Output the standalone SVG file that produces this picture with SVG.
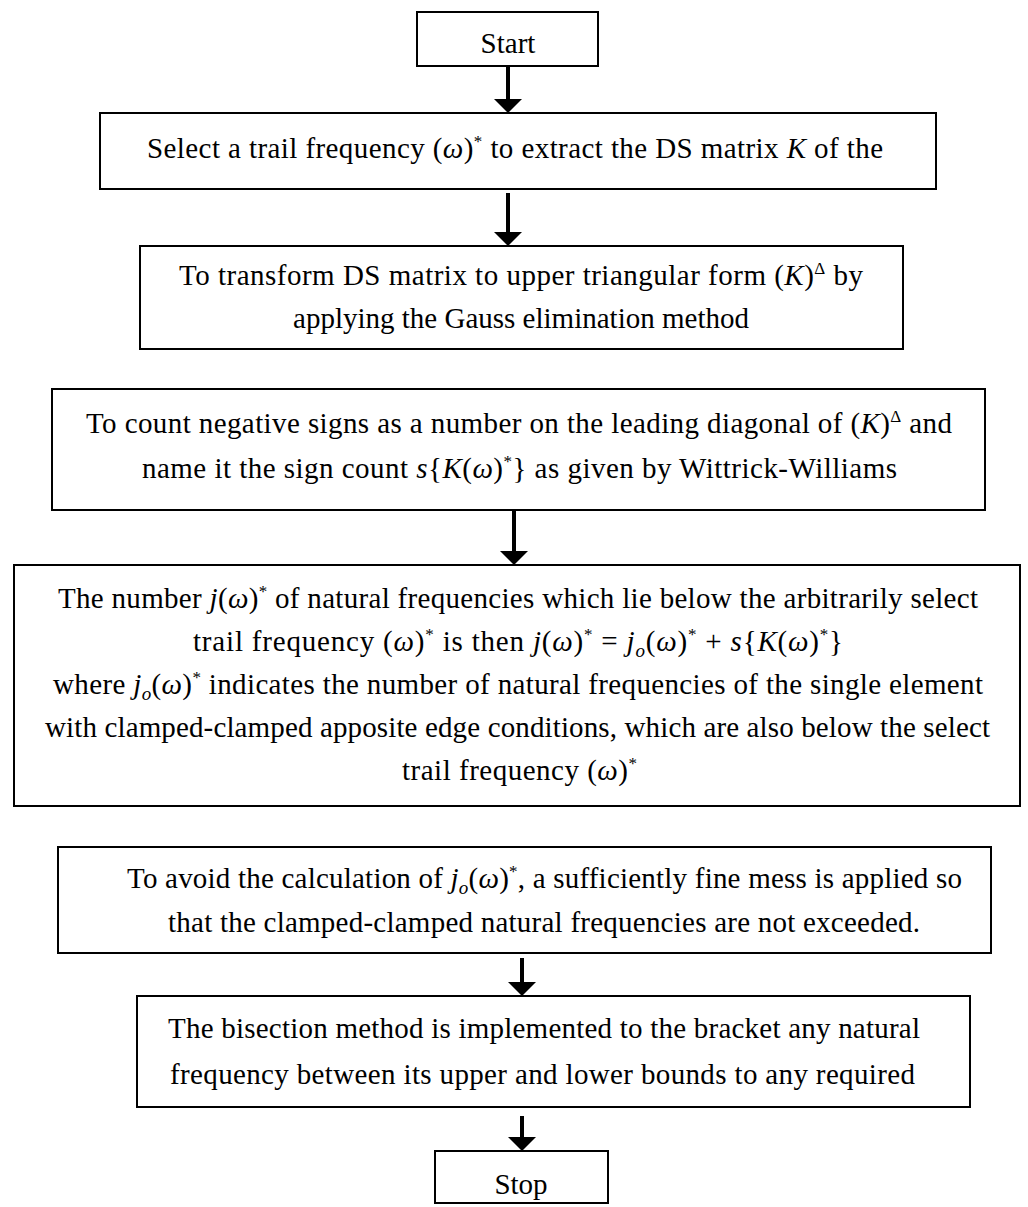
<svg xmlns="http://www.w3.org/2000/svg" width="1028" height="1207" viewBox="0 0 1028 1207">
<style>
.box{fill:#fff;stroke:#000;stroke-width:2}
.t{font-family:"Liberation Serif","DejaVu Serif",serif;font-size:29px;fill:#000;text-anchor:middle}
.m{font-style:italic}
.sup{font-size:17px}
.sub{font-size:19px;font-style:italic}
.conn{stroke:#000;stroke-width:4;fill:none}
.head{fill:#000}
</style>
<rect width="1028" height="1207" fill="#fff"/>
<g id="connectors">
<path d="M508 66 V100" class="conn"/><polygon class="head" points="494,99 522,99 508,113"/>
<path d="M508 193 V233" class="conn"/><polygon class="head" points="494,232 522,232 508,246"/>
<path d="M514 511 V552" class="conn"/><polygon class="head" points="500,551 528,551 514,565"/>
<path d="M522 958 V983" class="conn"/><polygon class="head" points="508,982 536,982 522,996"/>
<path d="M522 1116 V1138" class="conn"/><polygon class="head" points="508,1137 536,1137 522,1151"/>
</g>
<g id="start">
<rect class="box" x="417" y="12" width="181" height="54"/>
<text class="t" x="508" y="53">Start</text>
</g>
<g id="select">
<rect class="box" x="100" y="113" width="836" height="76"/>
<text class="t" x="515" y="158" textLength="736">Select a trail frequency  (<tspan class="m">ω</tspan>)<tspan class="sup" dy="-11">*</tspan><tspan dy="11"> to extract the DS matrix </tspan><tspan class="m">K</tspan> of the</text>
</g>
<g id="transform">
<rect class="box" x="140" y="246" width="763" height="103"/>
<text class="t" x="521" y="285" textLength="684">To transform DS matrix to upper triangular form  (<tspan class="m">K</tspan>)<tspan class="sup" dy="-11">Δ</tspan><tspan dy="11"> by</tspan></text>
<text class="t" x="521" y="328">applying the Gauss elimination method</text>
</g>
<g id="count">
<rect class="box" x="52" y="389" width="933" height="121"/>
<text class="t" x="519" y="433" textLength="866">To count negative signs as a number on the leading diagonal of  (<tspan class="m">K</tspan>)<tspan class="sup" dy="-11">Δ</tspan><tspan dy="11"> and</tspan></text>
<text class="t" x="519.5" y="478" textLength="755">name it the sign count  <tspan class="m">s</tspan>{<tspan class="m">K</tspan>(<tspan class="m">ω</tspan>)<tspan class="sup" dy="-11">*</tspan><tspan dy="11">}    as given by Wittrick-Williams</tspan></text>
</g>
<g id="number">
<rect class="box" x="14" y="565" width="1006" height="241"/>
<text class="t" x="518" y="608" textLength="920">The number  <tspan class="m">j</tspan>(<tspan class="m">ω</tspan>)<tspan class="sup" dy="-11">*</tspan><tspan dy="11"> of natural frequencies which lie below the arbitrarily select</tspan></text>
<text class="t" x="518" y="651" textLength="650">trail frequency (<tspan class="m">ω</tspan>)<tspan class="sup" dy="-11">*</tspan><tspan dy="11">   is then  </tspan><tspan class="m">j</tspan>(<tspan class="m">ω</tspan>)<tspan class="sup" dy="-11">*</tspan><tspan dy="11"> = </tspan><tspan class="m">j</tspan><tspan class="sub" dy="6">o</tspan><tspan dy="-6">(</tspan><tspan class="m">ω</tspan>)<tspan class="sup" dy="-11">*</tspan><tspan dy="11"> + </tspan><tspan class="m">s</tspan>{<tspan class="m">K</tspan>(<tspan class="m">ω</tspan>)<tspan class="sup" dy="-11">*</tspan><tspan dy="11">}</tspan></text>
<text class="t" x="518" y="694" textLength="930">where  <tspan class="m">j</tspan><tspan class="sub" dy="6">o</tspan><tspan dy="-6">(</tspan><tspan class="m">ω</tspan>)<tspan class="sup" dy="-11">*</tspan><tspan dy="11"> indicates the number of natural frequencies of the single element</tspan></text>
<text class="t" x="517.5" y="737" textLength="945">with clamped-clamped apposite edge conditions, which are also below the select</text>
<text class="t" x="519.5" y="780" textLength="235">trail frequency  (<tspan class="m">ω</tspan>)<tspan class="sup" dy="-11">*</tspan></text>
</g>
<g id="avoid">
<rect class="box" x="58" y="847" width="933" height="106"/>
<text class="t" x="544.5" y="888" textLength="835">To avoid the calculation of  <tspan class="m">j</tspan><tspan class="sub" dy="6">o</tspan><tspan dy="-6">(</tspan><tspan class="m">ω</tspan>)<tspan class="sup" dy="-11">*</tspan><tspan dy="11">, a sufficiently fine mess is applied so</tspan></text>
<text class="t" x="544" y="932" textLength="752">that the clamped-clamped natural frequencies are not exceeded.</text>
</g>
<g id="bisection">
<rect class="box" x="137" y="996" width="833" height="111"/>
<text class="t" x="544" y="1038" textLength="752">The bisection method is implemented to the bracket any natural</text>
<text class="t" x="542.5" y="1084" textLength="745">frequency between its upper and lower bounds to any required</text>
</g>
<g id="stop">
<rect class="box" x="435" y="1151" width="173" height="52"/>
<text class="t" x="521" y="1194">Stop</text>
</g>
</svg>
